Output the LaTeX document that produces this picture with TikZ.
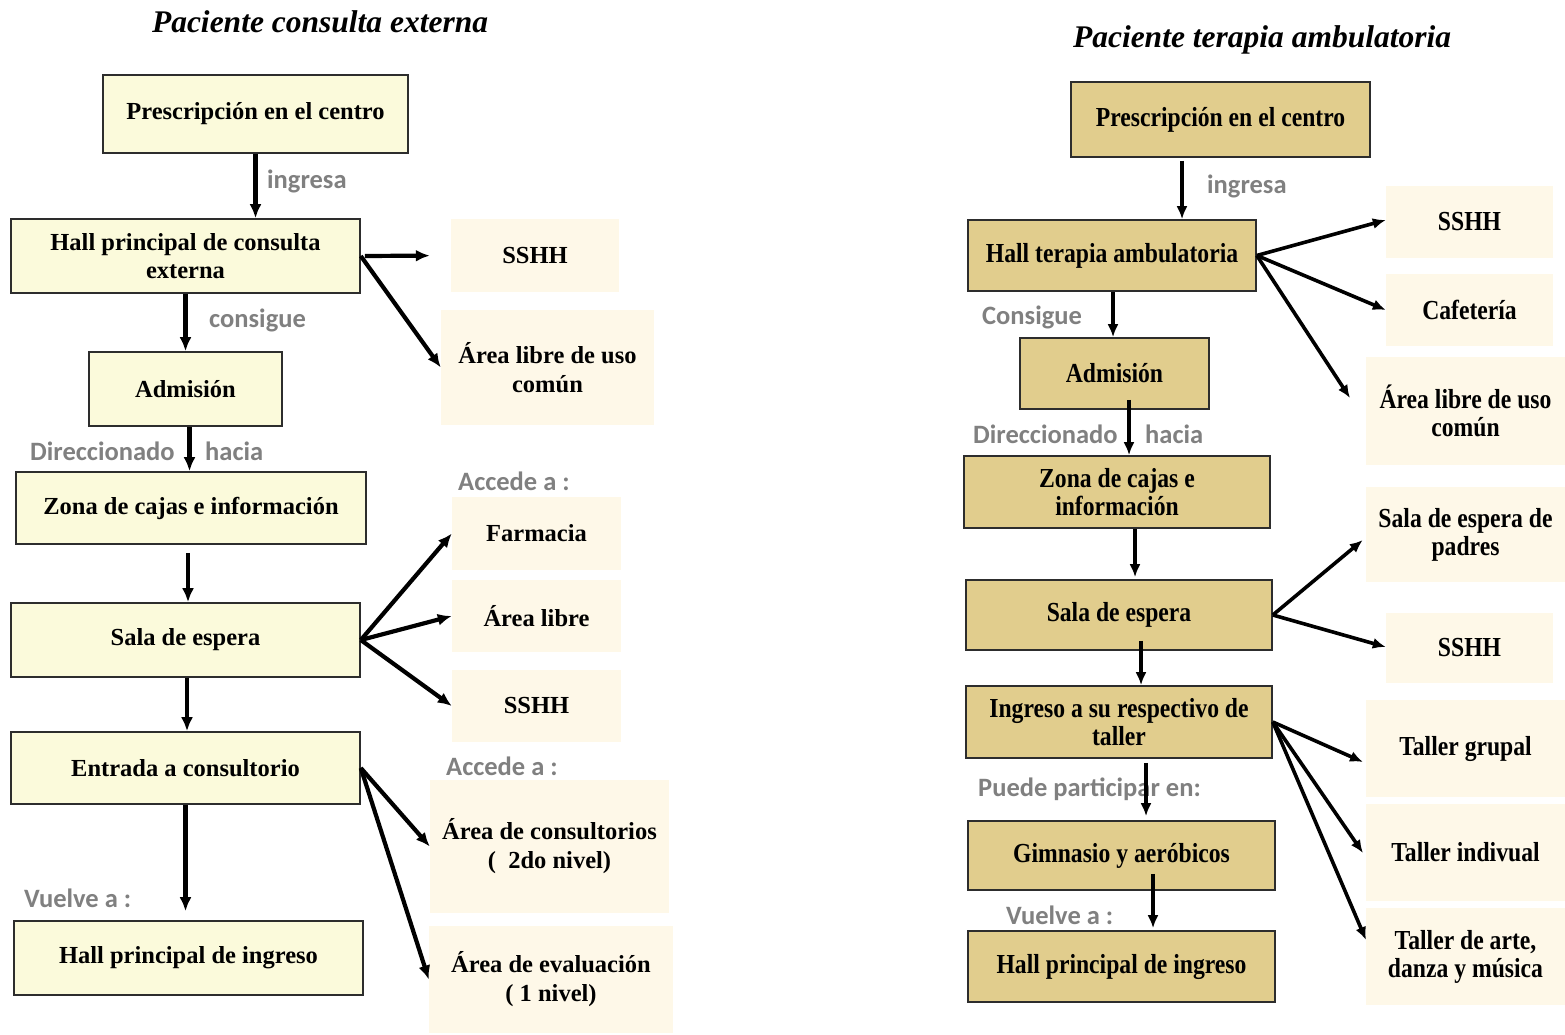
\documentclass[tikz,border=0pt]{standalone}
\usepackage{fontspec}
\setmainfont{Liberation Serif}
\newfontfamily\narrowserif{Liberation Serif}[FakeStretch=0.86]
\newfontfamily\lblfont{Carlito}
\usetikzlibrary{arrows.meta,calc}
\definecolor{leftfill}{RGB}{251,250,219}
\definecolor{rightfill}{RGB}{225,205,141}
\definecolor{destfill}{RGB}{254,248,232}
\definecolor{boxline}{RGB}{45,45,45}
\definecolor{lblgray}{RGB}{128,128,128}
\tikzset{
  lbox/.style={draw=boxline, line width=1.6pt, fill=leftfill, inner sep=0pt, align=center,
    font=\fontsize{24.5}{28}\selectfont\bfseries},
  rbox/.style={draw=boxline, line width=1.6pt, fill=rightfill, inner sep=0pt, align=center,
    font=\narrowserif\fontsize{27.5}{28}\selectfont\bfseries},
  ldest/.style={fill=destfill, inner sep=0pt, align=center,
    font=\fontsize{24.5}{29}\selectfont\bfseries},
  rdest/.style={fill=destfill, inner sep=0pt, align=center,
    font=\narrowserif\fontsize{27.5}{28}\selectfont\bfseries},
  lbl/.style={anchor=west, inner sep=0pt, text=lblgray,
    font=\lblfont\fontsize{26.5}{28}\selectfont\bfseries},
  ttl/.style={inner sep=0pt, font=\fontsize{31.5}{34}\selectfont\bfseries\itshape},
  larr/.style={line width=4.2pt, -{Latex[length=14pt,width=12pt]}},
  rarr/.style={line width=3.6pt, -{Latex[length=13pt,width=11pt]}},
}
\newcommand{\bx}[7]{% style, name, x1, y1, x2, y2, text
  \node[#1, minimum width={(#5)-(#3)}, minimum height={(#6)-(#4)}]
    (#2) at ({((#3)+(#5))/2},{((#4)+(#6))/2}) {#7};}
\begin{document}
\begin{tikzpicture}[x=1pt,y=-1pt]
\useasboundingbox[fill=white] (0,0) rectangle (1565,1035);

% ---- Paciente consulta externa ----
\node[ttl] (t1) at (320,22) {Paciente consulta externa};
\bx{lbox}{p1}{103}{75}{408}{153}{Prescripción en el centro}
\bx{lbox}{h1}{11}{219}{360}{293}{Hall principal de consulta\\externa}
\bx{ldest}{ss1}{451}{219}{619}{292}{SSHH}
\bx{ldest}{al1}{441}{310}{654}{425}{Área libre de uso\\común}
\bx{lbox}{ad1}{89}{352}{282}{426}{Admisión}
\bx{lbox}{zc1}{16}{472}{366}{544}{Zona de cajas e información}
\bx{ldest}{fa1}{452}{497}{621}{570}{Farmacia}
\bx{ldest}{ar1}{452}{580}{621}{652}{Área libre}
\bx{ldest}{ss2}{452}{670}{621}{742}{SSHH}
\bx{lbox}{se1}{11}{603}{360}{677}{Sala de espera}
\bx{lbox}{ec1}{11}{732}{360}{804}{Entrada a consultorio}
\bx{ldest}{ac1}{430}{780}{669}{913}{Área de consultorios\\(\ \ 2do nivel)}
\bx{ldest}{ae1}{429}{926}{673}{1033}{Área de evaluación\\( 1 nivel)}
\bx{lbox}{hi1}{14}{921}{363}{995}{Hall principal de ingreso}

\node[lbl] (l1) at (267,181) {ingresa};
\node[lbl] (l2) at (209,320) {consigue};
\node[lbl] (l3) at (30,451) {Direccionado};
\node[lbl] (l4) at (205,451) {hacia};
\node[lbl] (l5) at (458,481) {Accede a :};
\node[lbl] (l6) at (446,766) {Accede a :};
\node[lbl] (l7) at (24,898) {Vuelve a :};

\draw[larr] (p1.south) -- (p1.south |- h1.north);
\draw[larr] (h1.south) -- (h1.south |- ad1.north);
\draw[larr] ([xshift=4pt]ad1.south) coordinate (s1) -- (s1 |- zc1.north);
\draw[larr, shorten <=8pt] ([xshift=-3pt]zc1.south) coordinate (s2) -- (s2 |- se1.north);
\draw[larr] ([xshift=1.5pt]se1.south) coordinate (s3) -- (s3 |- ec1.north);
\draw[larr, shorten >=9pt] (ec1.south) -- (ec1.south |- hi1.north);
\draw[larr, shorten >=21pt] ([xshift=4pt]h1.east) -- (ss1.west);
\draw[larr] (h1.east) -- (al1.west);
\draw[larr] (se1.east) -- (fa1.west);
\draw[larr] (se1.east) -- (ar1.west);
\draw[larr] (se1.east) -- (ss2.west);
\draw[larr] (ec1.east) -- (ac1.west);
\draw[larr] (ec1.east) -- (ae1.west);

% ---- Paciente terapia ambulatoria ----
\node[ttl] (t2) at (1262,40) {Paciente terapia ambulatoria};
\bx{rbox}{p2}{1071}{82}{1370}{157}{Prescripción en el centro}
\bx{rbox}{h2}{968}{220}{1256}{291}{Hall terapia ambulatoria}
\bx{rdest}{ss3}{1386}{186}{1553}{258}{SSHH}
\bx{rdest}{cf2}{1386}{274}{1553}{346}{Cafetería}
\bx{rdest}{al2}{1366}{357}{1565}{465}{Área libre de uso\\común}
\bx{rbox}{ad2}{1020}{338}{1209}{409}{Admisión}
\bx{rbox}{zc2}{964}{456}{1270}{528}{Zona de cajas e\\información}
\bx{rdest}{sp2}{1366}{487}{1565}{582}{Sala de espera de\\padres}
\bx{rbox}{se2}{966}{580}{1272}{650}{Sala de espera}
\bx{rdest}{ss4}{1386}{613}{1553}{683}{SSHH}
\bx{rbox}{it2}{966}{686}{1272}{758}{Ingreso a su respectivo de\\taller}
\bx{rbox}{gy2}{968}{821}{1275}{890}{Gimnasio y aeróbicos}
\bx{rbox}{hi2}{968}{931}{1275}{1002}{Hall principal de ingreso}
\bx{rdest}{tg2}{1366}{700}{1565}{797}{Taller grupal}
\bx{rdest}{ti2}{1366}{804}{1565}{901}{Taller indivual}
\bx{rdest}{ta2}{1366}{908}{1565}{1005}{Taller de arte,\\danza y música}

\node[lbl] (m1) at (1207,186) {ingresa};
\node[lbl] (m2) at (982,317) {Consigue};
\node[lbl] (m3) at (973,434) {Direccionado};
\node[lbl] (m4) at (1145,434) {hacia};
\node[lbl] (m5) at (978,789) {Puede participar en:};
\node[lbl] (m6) at (1006,915) {Vuelve a :};

\draw[rarr, shorten <=3pt] ([xshift=-38.5pt]p2.south) coordinate (r1) -- (r1 |- h2.north);
\draw[rarr] ([xshift=1pt]h2.south) coordinate (r2) -- (r2 |- ad2.north);
\draw[rarr] ([xshift=14.5pt,yshift=10pt]ad2.south) coordinate (r3) -- (r3 |- zc2.north);
\draw[rarr] ([xshift=18pt]zc2.south) coordinate (r4) -- ([yshift=2pt]r4 |- se2.north);
\draw[rarr] ([xshift=22pt,yshift=10pt]se2.south) coordinate (r5) -- (r5 |- it2.north);
\draw[rarr, shorten <=4pt, shorten >=4pt] ([xshift=27pt]it2.south) coordinate (r6) -- (r6 |- gy2.north);
\draw[rarr] ([xshift=31.5pt,yshift=17pt]gy2.south) coordinate (r7) -- ([yshift=2pt]r7 |- hi2.north);

\coordinate (e1) at (1350,398);
\draw[rarr] (h2.east) -- ([yshift=2pt]ss3.west);
\draw[rarr] (h2.east) -- (cf2.west);
\draw[rarr] (h2.east) -- (e1);
\draw[rarr, shorten >=4pt] (se2.east) -- ([yshift=-3pt]sp2.west);
\draw[rarr] (se2.east) -- ([yshift=1pt]ss4.west);
\coordinate (e2) at (1363,762);
\coordinate (e3) at (1363,853);
\coordinate (e4) at (1366,940);
\draw[rarr] (it2.east) -- (e2);
\draw[rarr] (it2.east) -- (e3);
\draw[rarr] (it2.east) -- (e4);
\end{tikzpicture}
\end{document}
